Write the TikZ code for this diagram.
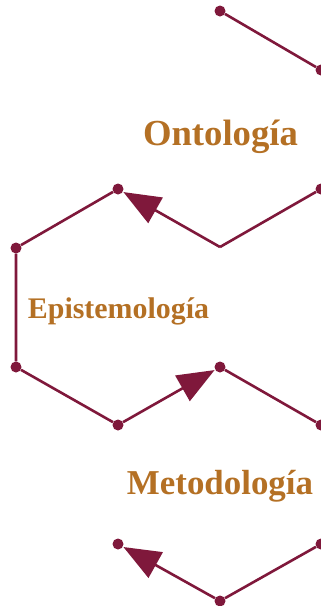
\documentclass[tikz,border=0pt]{standalone}
\usepackage{fontspec}
\setmainfont{Liberation Serif}
\usetikzlibrary{arrows.meta}
\definecolor{wine}{RGB}{127,24,59}
\definecolor{ochre}{RGB}{180,112,36}
\begin{document}
\begin{tikzpicture}[x=1pt,y=-1pt,
  dot/.style={circle,fill=wine,minimum size=11pt,inner sep=0pt},
  link/.style={draw=wine,line width=2.6pt},
  arr/.style={link,-{Triangle[length=37pt,width=29pt]},shorten >=0.5pt},
  label/.style={text=ochre,font=\bfseries,anchor=base,inner sep=0pt}]
\useasboundingbox (0,0) rectangle (321,606);
\node[dot] (p1) at (220,11) {};
\node[dot] (p2) at (321,70) {};
\node[dot] (p3) at (118,189) {};
\coordinate (p4) at (220,247);
\node[dot] (p5) at (321,189) {};
\node[dot] (p6) at (16,248) {};
\node[dot] (p7) at (16,367) {};
\node[dot] (p8) at (118,425) {};
\node[dot] (p9) at (220,367) {};
\node[dot] (p10) at (321,425) {};
\node[dot] (p11) at (118,544) {};
\node[dot] (p12) at (220,601) {};
\node[dot] (p13) at (321,544) {};
\draw[link] (p1) -- (p2);
\draw[link] (p5) -- (p4);
\draw[arr] (p4) -- (p3);
\draw[link] (p3) -- (p6) -- (p7) -- (p8);
\draw[arr] (p8) -- (p9);
\draw[link] (p9) -- (p10);
\draw[link] (p13) -- (p12);
\draw[arr] (p12) -- (p11);
\node[label,font=\bfseries\fontsize{36.7}{40}\selectfont] (onto) at (220.5,145) {Ontología};
\node[label,font=\bfseries\fontsize{29.9}{34}\selectfont] (epis) at (118.5,318) {Epistemología};
\node[label,font=\bfseries\fontsize{34.9}{38}\selectfont] (meto) at (220,494) {Metodología};
\end{tikzpicture}
\end{document}
